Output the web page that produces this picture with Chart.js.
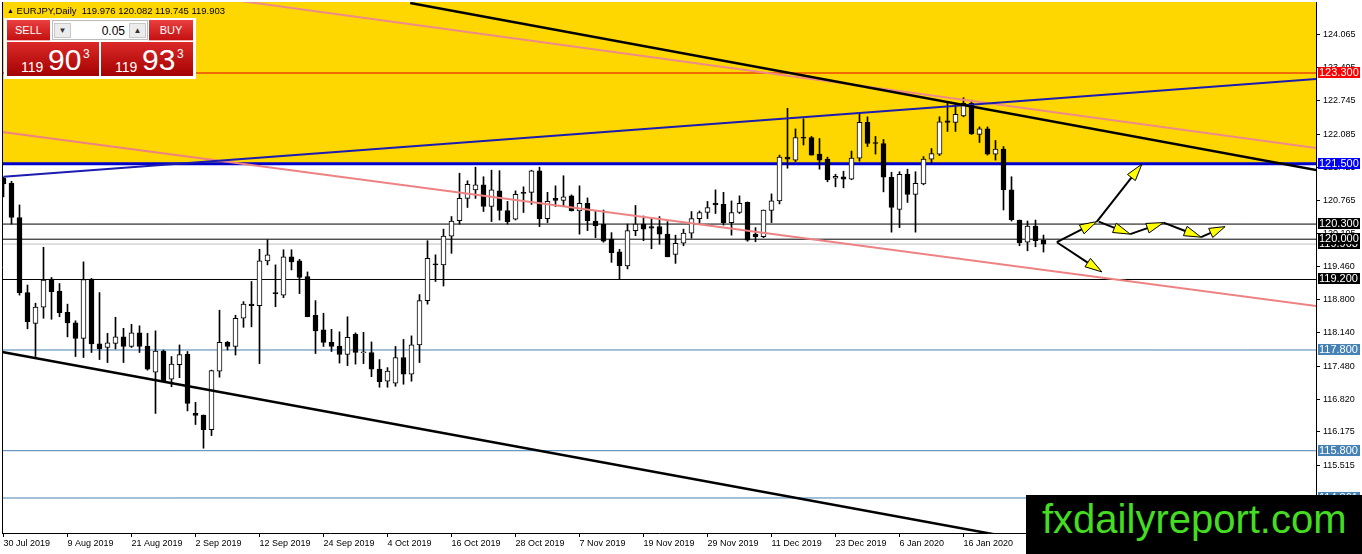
<!DOCTYPE html>
<html>
<head>
<meta charset="utf-8">
<title>EURJPY, Daily</title>
<script src="https://cdn.jsdelivr.net/npm/chart.js@4.4.0/dist/chart.umd.min.js"></script>
<style>
html,body{margin:0;padding:0;background:#fff;overflow:hidden;}
#wrap{position:relative;width:1362px;height:554px;}
#chart{display:block;width:1362px;height:554px;}
#hdr{position:absolute;left:7px;top:4px;font:9.5px "Liberation Sans",Arial,sans-serif;color:#000;white-space:pre;line-height:13px;}
#hdr .tri{font-size:7px;vertical-align:1px;}
.ab{position:absolute;box-sizing:border-box;font-family:"Liberation Sans",Arial,sans-serif;}
.btn{background:linear-gradient(#ea4040,#c41010);color:#fff;font-size:11px;text-align:center;line-height:20px;border-bottom:1px solid #f3b0b0;}
.px{background:linear-gradient(#dc2828,#a40202);color:#fff;}
.px span{position:absolute;white-space:nowrap;}
.arr{position:absolute;top:2px;width:17px;height:15px;background:#ececec;border:1px solid #c8c8c8;font-size:8px;line-height:14px;text-align:center;color:#333;box-sizing:border-box;}
#wm{position:absolute;left:1026px;top:495px;width:336px;height:59px;background:#000;}
#wm span{position:absolute;left:16px;top:4px;font:40px "Liberation Sans",Arial,sans-serif;line-height:40px;color:#44dd22;white-space:nowrap;}
</style>
</head>
<body>
<div id="wrap">
<canvas id="chart" width="1362" height="554"></canvas>
<div id="hdr"><span class="tri">&#9650;</span> EURJPY,Daily  119.976 120.082 119.745 119.903</div>
<div class="ab" style="left:4px;top:18px;width:192px;height:61px;background:#fff;"></div>
<div class="ab btn" style="left:7px;top:20px;width:43px;height:21px;">SELL</div>
<div class="ab" style="left:52px;top:20px;width:96px;height:20px;background:#fff;border:1px solid #bcbcbc;">
  <div class="arr" style="left:1px;">&#9660;</div>
  <span style="position:absolute;right:22px;top:3px;font-size:12px;color:#000;">0.05</span>
  <div class="arr" style="right:1px;">&#9650;</div>
</div>
<div class="ab btn" style="left:149px;top:20px;width:44px;height:21px;">BUY</div>
<div class="ab px" style="left:7px;top:42px;width:92px;height:34px;">
  <span style="left:14px;top:17px;font-size:14px;">119</span>
  <span style="left:41px;top:1px;font-size:30px;">90</span>
  <span style="left:76px;top:5px;font-size:12px;">3</span>
</div>
<div class="ab px" style="left:101px;top:42px;width:92px;height:34px;">
  <span style="left:14px;top:17px;font-size:14px;">119</span>
  <span style="left:41px;top:1px;font-size:30px;">93</span>
  <span style="left:76px;top:5px;font-size:12px;">3</span>
</div>
<div id="wm"><span>fxdailyreport.com</span></div>
</div>
<script>
/* EURJPY daily candles, 30 Jul 2019 .. 30 Jan 2020, one bar per trading day */
const opens = [121.21,121.11,120.43,118.94,118.33,118.65,119.21,118.97,118.55,118.34,
118.03,119.21,117.92,117.85,117.93,118.06,117.87,118.14,117.88,117.36,
117.78,117.22,117.51,117.72,116.54,116.51,116.22,117.38,117.95,117.87,
118.43,118.71,118.68,119.57,118.94,118.89,119.65,119.57,119.26,118.49,
118.20,117.95,117.88,117.71,118.11,117.75,117.75,117.42,117.18,117.14,
117.65,117.32,117.90,118.78,119.51,119.49,120.06,120.37,120.81,120.98,
121.08,120.65,120.96,120.57,120.40,120.93,120.93,121.36,120.41,120.81,
120.77,120.86,120.56,120.71,120.36,120.30,120.00,119.75,119.47,120.17,
120.30,120.25,120.25,120.10,119.70,119.92,120.12,120.41,120.53,120.71,
120.69,120.33,120.53,120.73,120.10,120.05,120.57,120.76,121.63,121.57,
122.02,122.02,121.69,121.59,121.21,121.24,121.19,121.61,122.32,121.92,
121.90,121.23,120.59,121.29,120.89,121.10,121.59,121.69,122.35,122.32,
122.45,122.70,122.08,122.19,121.69,121.79,120.98,120.38,119.94,120.26,
119.976];
const highs = [121.23,121.15,120.68,119.09,118.73,119.84,119.24,119.12,118.71,118.38,
119.55,119.22,118.94,118.13,118.45,118.23,118.31,118.28,118.13,118.18,
117.80,117.67,117.90,117.77,116.76,116.51,117.40,118.59,117.97,118.49,
118.76,119.16,119.80,119.99,119.49,119.79,119.79,119.60,119.35,118.78,
118.53,118.21,118.16,118.46,118.14,118.15,117.96,117.61,117.45,117.87,
118.01,118.08,118.90,119.97,119.69,120.20,120.45,121.31,121.16,121.43,
121.24,121.37,121.36,120.75,120.96,121.04,121.37,121.43,120.93,121.06,
121.26,120.88,121.06,120.82,120.55,120.58,120.13,119.80,120.30,120.67,
120.46,120.41,120.45,120.35,120.08,120.20,120.55,120.56,120.75,120.98,
120.93,120.76,120.86,120.74,120.23,120.58,120.90,121.67,122.60,122.19,
122.39,122.04,122.00,121.63,121.29,121.35,121.75,122.50,122.43,122.04,
121.98,121.33,121.34,121.39,121.34,121.64,121.80,122.43,122.73,122.70,
122.81,122.76,122.23,122.23,121.96,121.84,121.24,120.38,120.36,120.38,
120.082];
const lows = [120.84,120.30,118.89,118.22,117.67,118.43,118.41,118.46,118.06,117.67,
117.65,117.75,117.61,117.55,117.82,117.55,117.85,117.75,117.40,116.54,
117.16,117.07,117.25,116.59,116.32,115.85,116.10,117.26,117.80,117.70,
118.25,118.26,117.53,119.49,118.66,118.84,119.39,118.92,118.46,117.73,
117.87,117.77,117.54,117.49,117.52,117.53,117.27,117.06,117.06,117.08,
117.12,117.18,117.55,118.71,119.16,119.07,119.72,120.30,120.63,120.81,
120.55,120.35,120.38,120.30,120.38,120.53,120.69,120.25,120.33,120.65,
120.65,120.56,120.10,120.17,120.03,119.94,119.54,119.20,119.41,120.07,
119.97,119.81,119.90,119.65,119.52,119.87,120.02,120.32,120.41,120.51,
120.28,120.08,120.51,119.96,119.95,120.03,120.33,120.70,121.41,121.54,
121.87,121.67,121.39,121.14,121.04,121.02,121.18,121.55,121.84,121.69,
120.94,120.14,120.23,120.73,120.14,121.08,121.51,121.66,122.14,122.14,
122.43,122.08,121.92,121.67,121.57,120.58,120.36,119.87,119.77,119.85,
119.745];
const closes = [121.10,120.43,118.94,118.36,118.65,119.19,118.96,118.54,118.34,118.03,
119.20,117.92,117.82,117.94,118.06,117.87,118.14,117.87,117.42,117.78,
117.17,117.52,117.71,116.74,116.50,116.22,117.39,117.95,117.87,118.43,
118.71,118.68,119.57,119.69,118.92,119.65,119.55,119.24,118.46,118.18,
117.95,117.87,117.71,118.05,117.75,117.76,117.42,117.17,117.38,117.65,
117.32,117.90,118.78,119.62,119.49,120.06,120.36,120.81,121.09,121.08,
120.65,120.98,120.57,120.35,120.89,120.91,121.36,120.41,120.75,120.77,
120.84,120.56,120.71,120.37,120.27,119.96,119.73,119.47,120.17,120.30,
120.20,120.22,120.10,119.65,119.92,120.12,120.41,120.53,120.63,120.68,
120.33,120.53,120.71,119.98,120.05,120.58,120.76,121.63,121.59,122.02,
122.01,121.67,121.57,121.18,121.25,121.19,121.61,122.32,121.90,121.90,
121.23,120.63,121.29,120.89,121.11,121.59,121.70,122.33,122.32,122.48,
122.70,122.09,122.19,121.69,121.79,120.98,120.39,119.93,120.26,119.97,
119.903];

const tickLabels = ["30 Jul 2019","9 Aug 2019","21 Aug 2019","2 Sep 2019","12 Sep 2019","24 Sep 2019","4 Oct 2019","16 Oct 2019","28 Oct 2019","7 Nov 2019","19 Nov 2019","29 Nov 2019","11 Dec 2019","23 Dec 2019","6 Jan 2020","16 Jan 2020"];
const barsPerLabel = 8;
const yTicks = [124.065,123.405,122.745,122.085,121.425,120.765,120.105,119.460,118.800,118.140,117.480,116.820,116.175,115.515];

// horizontal levels (drawn in this order, later boxes on top)
const levels = [123.300,121.500,120.300,119.903,120.000,119.200,117.800,115.800,114.861];
const levelLineColors = ["#e00000","#0000cc","#000000","#c0c0c0","#000000","#000000","#4682b4","#4682b4","#4682b4"];
const levelBoxColors  = ["#ff0000","#0000ff","#000000","#000000","#000000","#000000","#4682b4","#4682b4","#4682b4"];
const levelWidths = [1,3,1,1,1,1,1,1,1];

const zoneTop = 125.5, zoneBottom = 121.5;

// trend lines: [bar index, price]
const trendBlackUpper = [[50.84,124.69],[164.09,121.374]];
const trendBlackLower = [[-0.16,117.76],[130,113.96]];
const trendBlue = [[0,121.241],[164.09,123.181]];
const trendPinkUpper = [[28.71,124.75],[164.09,121.81]];
const trendPinkLower = [[-0.16,122.13],[164.09,118.673]];

// projection arrows
const arrowFrom = [[131.67,119.94],[136.67,120.35],[131.67,119.94],[136.9,120.35],[140.84,120.10],[145.0,120.33],[149.7,120.04]];
const arrowTo   = [[136.67,120.35],[142.3,121.49],[137.3,119.35],[140.84,120.10],[145.0,120.33],[149.7,120.04],[152.7,120.25]];

const X_MIN = -0.1875, X_MAX = 164.0625, Y_MIN = 114.166, Y_MAX = 124.71;

Chart.defaults.font.family = "'Liberation Sans', Arial, sans-serif";
Chart.defaults.font.size = 9;
Chart.defaults.color = "#000";

function pts(a){ return a.map(p=>({x:p[0],y:p[1]})); }
function hline(v){ return [{x:-5,y:v},{x:170,y:v}]; }

const datasets = [];
datasets.push({type:"line", data:hline(zoneTop), fill:{value:zoneBottom}, backgroundColor:"#ffd700", borderWidth:0, pointRadius:0, order:100, clip:0});
levels.forEach((v,i)=>{
  datasets.push({type:"line", data:hline(v), borderColor:levelLineColors[i], borderWidth:levelWidths[i], pointRadius:0, fill:false, order:50, clip:0});
});
datasets.push({type:"bar", data:opens.map((o,i)=>({x:i,y:[lows[i],highs[i]]})), backgroundColor:"#000", borderWidth:0, barThickness:1, grouped:false, order:40});
datasets.push({type:"bar", data:opens.map((o,i)=>{
    let lo=Math.min(o,closes[i]), hi=Math.max(o,closes[i]);
    if(hi-lo<0.02){ const m=(hi+lo)/2; lo=m-0.01; hi=m+0.01; }
    return {x:i,y:[lo,hi]};
  }), backgroundColor:opens.map((o,i)=>closes[i]>=o?"#ffffff":"#000000"),
  borderColor:"#000", borderWidth:1, borderSkipped:false, barThickness:5, grouped:false, order:30});
[[trendBlackUpper,"#000",2.5],[trendBlackLower,"#000",2.5],[trendBlue,"#1c1cb0",2],[trendPinkUpper,"#ee8a8a",2],[trendPinkLower,"#ee8282",2]].forEach(t=>{
  datasets.push({type:"line", data:pts(t[0]), borderColor:t[1], borderWidth:t[2], pointRadius:0, fill:false, order:10, clip:0});
});

const framePlugin = {
  id:"frame",
  afterDatasetsDraw(c){
    const a=c.chartArea, x=c.ctx, sx=c.scales.x, sy=c.scales.y;
    x.save();
    x.beginPath(); x.rect(a.left,a.top,a.right-a.left,a.bottom-a.top); x.clip();
    arrowFrom.forEach((f,i)=>{
      const t=arrowTo[i];
      const x0=sx.getPixelForValue(f[0]), y0=sy.getPixelForValue(f[1]);
      const x1=sx.getPixelForValue(t[0]), y1=sy.getPixelForValue(t[1]);
      const len=Math.hypot(x1-x0,y1-y0), ux=(x1-x0)/len, uy=(y1-y0)/len;
      const L=Math.min(17,len*0.6), W=5;
      const bx=x1-ux*L, by=y1-uy*L;
      x.strokeStyle="#000"; x.lineWidth=2;
      x.beginPath(); x.moveTo(x0,y0); x.lineTo(bx,by); x.stroke();
      x.beginPath(); x.moveTo(x1,y1); x.lineTo(bx-uy*W,by+ux*W); x.lineTo(bx+uy*W,by-ux*W); x.closePath();
      x.fillStyle="#ffff00"; x.fill(); x.lineWidth=1; x.stroke();
    });
    x.restore();
  },
  afterDraw(c){
    const a=c.chartArea, x=c.ctx, sy=c.scales.y;
    x.save();
    x.strokeStyle="#000"; x.lineWidth=1;
    x.beginPath(); x.moveTo(a.left+0.5,a.top); x.lineTo(a.left+0.5,a.bottom); x.stroke();
    x.font="11px 'Liberation Sans', Arial, sans-serif"; x.textBaseline="middle"; x.textAlign="left";
    levels.forEach((v,i)=>{
      const y=Math.round(sy.getPixelForValue(v));
      x.fillStyle=levelBoxColors[i]; x.fillRect(a.right+2,y-6,42,11);
      x.fillStyle="#fff"; x.fillText(v.toFixed(3),a.right+3,y);
    });
    x.restore();
  }
};

new Chart(document.getElementById("chart"), {
  type:"bar",
  data:{datasets},
  options:{
    responsive:false, animation:false, events:[],
    layout:{padding:{left:2,top:2,right:0,bottom:0}},
    plugins:{legend:{display:false}, tooltip:{enabled:false}},
    scales:{
      x:{type:"linear", min:X_MIN, max:X_MAX, offset:false,
        grid:{drawOnChartArea:false, drawTicks:true, tickLength:4, color:"#000", offset:false},
        border:{color:"#000"},
        afterBuildTicks:s=>{ s.ticks = tickLabels.map((l,k)=>({value:k*barsPerLabel})); },
        afterFit:s=>{ s.height=21; s.paddingLeft=0; s.paddingRight=0; },
        ticks:{autoSkip:false, maxRotation:0, align:"start", padding:1, callback:v=>tickLabels[Math.round(v/barsPerLabel)]||""}
      },
      y:{type:"linear", position:"right", min:Y_MIN, max:Y_MAX, beginAtZero:false,
        grid:{drawOnChartArea:false, drawTicks:true, tickLength:4, color:"#000"},
        border:{color:"#000"},
        afterBuildTicks:s=>{ s.ticks = yTicks.map(v=>({value:v})); },
        afterFit:s=>{ s.width=46; s.paddingTop=0; s.paddingBottom=0; },
        ticks:{padding:3, callback:v=>Number(v).toFixed(3)}
      }
    }
  },
  plugins:[framePlugin]
});
</script>
</body>
</html>
